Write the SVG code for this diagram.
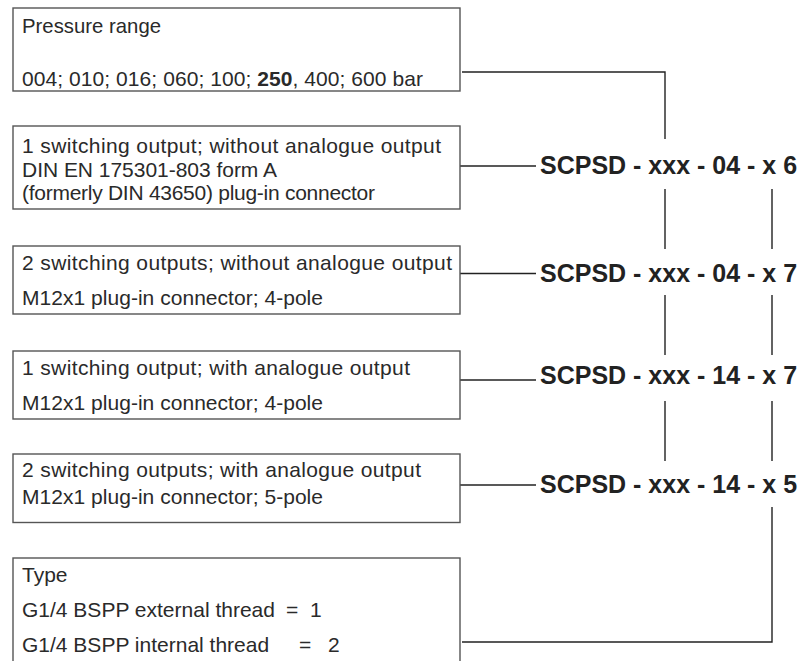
<svg xmlns="http://www.w3.org/2000/svg" width="799" height="661" viewBox="0 0 799 661">
<style>
.box{fill:#fff;stroke:#555;stroke-width:1.4}
.t{font-family:"Liberation Sans",Arial,sans-serif;font-size:21px;fill:#2a2a2a}
.b{font-family:"Liberation Sans",Arial,sans-serif;font-size:25px;font-weight:bold;fill:#222}
.c{fill:none;stroke:#222;stroke-width:1.4}
</style>
<rect width="799" height="661" fill="#fff"/>
<g id="connectors">
<path class="c" d="M462 72H665V139"/>
<path class="c" d="M460 166H536"/>
<path class="c" d="M460 273.5H536"/>
<path class="c" d="M460 380H536"/>
<path class="c" d="M460 485H536"/>
<path class="c" d="M665 189V249M772 189V249"/>
<path class="c" d="M665 295V355M772 295V355"/>
<path class="c" d="M665 401V461M772 401V461"/>
<path class="c" d="M772 507V642H462"/>
</g>
<g id="pressure-range">
<rect class="box" x="13" y="8" width="447" height="83"/>
<text class="t" x="22" y="33" textLength="139" lengthAdjust="spacingAndGlyphs">Pressure range</text>
<text class="t" x="22" y="86" textLength="401" lengthAdjust="spacing">004; 010; 016; 060; 100; <tspan font-weight="bold">250</tspan>, 400; 600 bar</text>
</g>
<g id="option-1">
<rect class="box" x="13" y="126" width="447" height="83"/>
<text class="t" x="22" y="153" textLength="419" lengthAdjust="spacing">1 switching output; without analogue output</text>
<text class="t" x="22" y="176.5" textLength="255" lengthAdjust="spacing">DIN EN 175301-803 form A</text>
<text class="t" x="22" y="200" textLength="353" lengthAdjust="spacing">(formerly DIN 43650) plug-in connector</text>
</g>
<g id="option-2">
<rect class="box" x="13" y="246" width="447" height="68"/>
<text class="t" x="22" y="270" textLength="430" lengthAdjust="spacing">2 switching outputs; without analogue output</text>
<text class="t" x="22" y="305" textLength="301" lengthAdjust="spacing">M12x1 plug-in connector; 4-pole</text>
</g>
<g id="option-3">
<rect class="box" x="13" y="351" width="447" height="68"/>
<text class="t" x="22" y="375" textLength="388" lengthAdjust="spacing">1 switching output; with analogue output</text>
<text class="t" x="22" y="410" textLength="301" lengthAdjust="spacing">M12x1 plug-in connector; 4-pole</text>
</g>
<g id="option-4">
<rect class="box" x="13" y="454" width="447" height="68.5"/>
<text class="t" x="22" y="477" textLength="399" lengthAdjust="spacing">2 switching outputs; with analogue output</text>
<text class="t" x="22" y="504" textLength="301" lengthAdjust="spacing">M12x1 plug-in connector; 5-pole</text>
</g>
<g id="type">
<rect class="box" x="13" y="558" width="447" height="120"/>
<text class="t" x="22" y="582">Type</text>
<text class="t" x="22" y="617">G1/4 BSPP external thread<tspan x="286">=</tspan><tspan x="310">1</tspan></text>
<text class="t" x="22" y="652">G1/4 BSPP internal thread<tspan x="299">=</tspan><tspan x="328">2</tspan></text>
</g>
<g id="code-1"><text class="b" x="540" y="174">SCPSD - xxx - 04 - x 6</text></g>
<g id="code-2"><text class="b" x="540" y="282">SCPSD - xxx - 04 - x 7</text></g>
<g id="code-3"><text class="b" x="540" y="384">SCPSD - xxx - 14 - x 7</text></g>
<g id="code-4"><text class="b" x="540" y="493">SCPSD - xxx - 14 - x 5</text></g>
</svg>
